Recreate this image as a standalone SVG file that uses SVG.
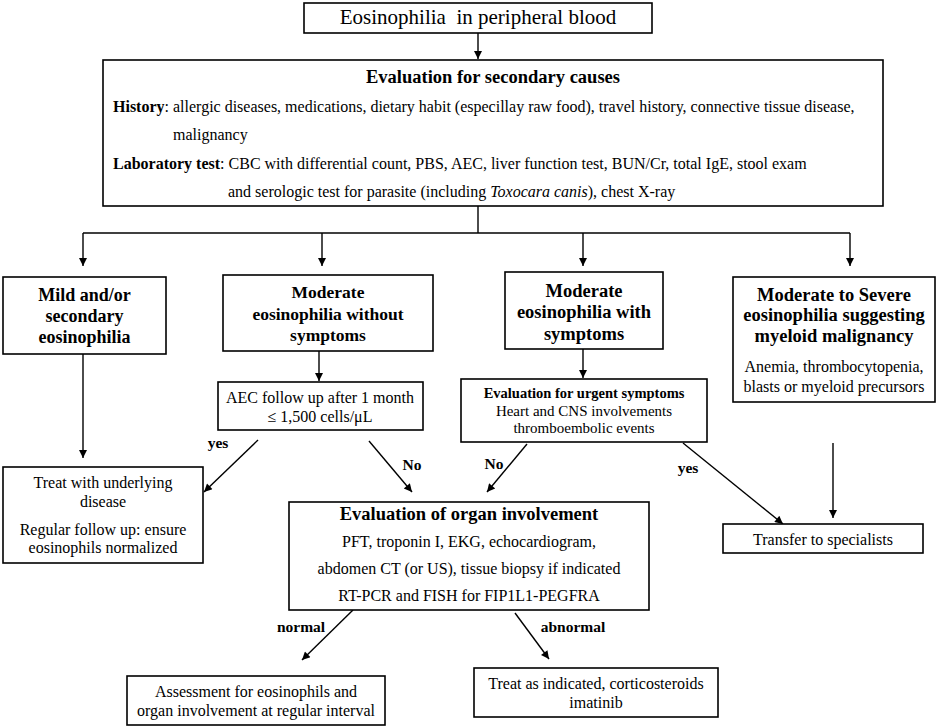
<svg xmlns="http://www.w3.org/2000/svg" width="941" height="727" viewBox="0 0 941 727">
<style>
.box{fill:#fff;stroke:#000;stroke-width:1.6;}
.h{font-weight:bold;font-size:18.5px;text-anchor:middle;}
.r{font-size:16px;text-anchor:middle;}
.l{font-weight:bold;font-size:15.5px;}
.t{font-size:16px;}
.c{fill:none;stroke:#000;stroke-width:1.4;}
.a{fill:none;stroke:#000;stroke-width:1.4;marker-end:url(#ah);}
</style>
<defs>
<marker id="ah" viewBox="0 0 10 10" refX="10" refY="5" markerWidth="10" markerHeight="8" markerUnits="userSpaceOnUse" orient="auto"><path d="M0,0 L10,5 L0,10 z" fill="#000"/></marker>
</defs>
<rect width="941" height="727" fill="#fff"/>
<g font-family="Liberation Serif, serif">
<g id="connectors">
<line class="a" x1="478" y1="33" x2="478" y2="59"/>
<polyline class="c" points="478,206 478,233"/>
<line class="c" x1="83" y1="233" x2="850" y2="233"/>
<line class="a" x1="83" y1="233" x2="83" y2="266"/>
<line class="a" x1="322" y1="233" x2="322" y2="266"/>
<line class="a" x1="583" y1="233" x2="583" y2="266"/>
<line class="a" x1="850" y1="233" x2="850" y2="266"/>
<line class="a" x1="83" y1="354" x2="83" y2="458"/>
<line class="a" x1="319" y1="351" x2="319" y2="381"/>
<line class="a" x1="583" y1="349" x2="583" y2="378"/>
<line class="a" x1="258" y1="440" x2="204" y2="492"/>
<line class="a" x1="369" y1="441" x2="412" y2="492"/>
<line class="a" x1="527" y1="444" x2="487" y2="492"/>
<line class="a" x1="683" y1="443" x2="783" y2="524"/>
<line class="a" x1="833" y1="443" x2="833" y2="518"/>
<line class="a" x1="353" y1="610" x2="302" y2="660"/>
<line class="a" x1="515" y1="613" x2="549" y2="659"/>
<text class="l" font-family="Liberation Serif, serif" x="218" y="448" text-anchor="middle">yes</text>
<text class="l" font-family="Liberation Serif, serif" x="412" y="470" text-anchor="middle">No</text>
<text class="l" font-family="Liberation Serif, serif" x="494" y="469" text-anchor="middle">No</text>
<text class="l" font-family="Liberation Serif, serif" x="688" y="473" text-anchor="middle">yes</text>
<text class="l" font-family="Liberation Serif, serif" x="301" y="632" text-anchor="middle">normal</text>
<text class="l" font-family="Liberation Serif, serif" x="573" y="632" text-anchor="middle">abnormal</text>
</g>
<g id="start">
<rect class="box" x="304" y="3" width="348" height="30"/>
<text font-family="Liberation Serif, serif" x="478" y="24" font-size="21" text-anchor="middle" xml:space="preserve">Eosinophilia  in peripheral blood</text>
</g>
<g id="secondary">
<rect class="box" x="103" y="60" width="780" height="146"/>
<text class="h" font-family="Liberation Serif, serif" x="493" y="83">Evaluation for secondary causes</text>
<text class="t" font-family="Liberation Serif, serif" x="113" y="112"><tspan font-weight="bold">History</tspan>: allergic diseases, medications, dietary habit (especillay raw food), travel history, connective tissue disease,</text>
<text class="t" font-family="Liberation Serif, serif" x="173" y="140">malignancy</text>
<text class="t" font-family="Liberation Serif, serif" x="113" y="169"><tspan font-weight="bold">Laboratory test</tspan>: CBC with differential count, PBS, AEC, liver function test, BUN/Cr, total IgE, stool exam</text>
<text class="t" font-family="Liberation Serif, serif" x="228" y="197">and serologic test for parasite (including <tspan font-style="italic">Toxocara canis</tspan>), chest X-ray</text>
</g>
<g id="mild">
<rect class="box" x="3" y="277" width="163" height="77"/>
<text class="h" font-family="Liberation Serif, serif" x="84.5" y="301" style="font-size:18px">Mild and/or</text>
<text class="h" font-family="Liberation Serif, serif" x="84.5" y="322" style="font-size:18px">secondary</text>
<text class="h" font-family="Liberation Serif, serif" x="84.5" y="343" style="font-size:18px">eosinophilia</text>
</g>
<g id="mod-no-sym">
<rect class="box" x="223" y="275" width="210" height="76"/>
<text class="h" font-family="Liberation Serif, serif" x="328" y="298" style="font-size:17.5px">Moderate</text>
<text class="h" font-family="Liberation Serif, serif" x="328" y="320" style="font-size:17.5px">eosinophilia without</text>
<text class="h" font-family="Liberation Serif, serif" x="328" y="341" style="font-size:17.5px">symptoms</text>
</g>
<g id="mod-sym">
<rect class="box" x="505" y="272" width="158" height="77"/>
<text class="h" font-family="Liberation Serif, serif" x="584" y="297">Moderate</text>
<text class="h" font-family="Liberation Serif, serif" x="584" y="318">eosinophilia with</text>
<text class="h" font-family="Liberation Serif, serif" x="584" y="340">symptoms</text>
</g>
<g id="severe">
<rect class="box" x="733" y="277" width="202" height="125"/>
<text class="h" font-family="Liberation Serif, serif" x="834" y="301">Moderate to Severe</text>
<text class="h" font-family="Liberation Serif, serif" x="834" y="321">eosinophilia suggesting</text>
<text class="h" font-family="Liberation Serif, serif" x="834" y="342">myeloid malignancy</text>
<text class="r" font-family="Liberation Serif, serif" x="834" y="372">Anemia, thrombocytopenia,</text>
<text class="r" font-family="Liberation Serif, serif" x="834" y="392">blasts or myeloid precursors</text>
</g>
<g id="aec">
<rect class="box" x="218" y="382" width="205" height="48"/>
<text class="r" font-family="Liberation Serif, serif" x="320" y="403">AEC follow up after 1 month</text>
<text class="r" font-family="Liberation Serif, serif" x="320" y="422">≤ 1,500 cells/μL</text>
</g>
<g id="urgent">
<rect class="box" x="461" y="379" width="246" height="63"/>
<text font-family="Liberation Serif, serif" x="584" y="398" font-size="14.5" font-weight="bold" text-anchor="middle">Evaluation for urgent symptoms</text>
<text font-family="Liberation Serif, serif" x="584" y="416" font-size="15" text-anchor="middle">Heart and CNS involvements</text>
<text font-family="Liberation Serif, serif" x="584" y="433" font-size="15" text-anchor="middle">thromboembolic events</text>
</g>
<g id="treat-underlying">
<rect class="box" x="3" y="467" width="200" height="96"/>
<text class="r" font-family="Liberation Serif, serif" x="103" y="488">Treat with underlying</text>
<text class="r" font-family="Liberation Serif, serif" x="103" y="507">disease</text>
<text class="r" font-family="Liberation Serif, serif" x="103" y="535">Regular follow up: ensure</text>
<text class="r" font-family="Liberation Serif, serif" x="103" y="553">eosinophils normalized</text>
</g>
<g id="organ">
<rect class="box" x="289" y="502" width="360" height="108"/>
<text class="h" font-family="Liberation Serif, serif" x="469" y="520">Evaluation of organ involvement</text>
<text class="r" font-family="Liberation Serif, serif" x="469" y="547">PFT, troponin I, EKG, echocardiogram,</text>
<text class="r" font-family="Liberation Serif, serif" x="469" y="574">abdomen CT (or US), tissue biopsy if indicated</text>
<text class="r" font-family="Liberation Serif, serif" x="469" y="601">RT-PCR and FISH for FIP1L1-PEGFRA</text>
</g>
<g id="transfer">
<rect class="box" x="723" y="524" width="200" height="29"/>
<text class="r" font-family="Liberation Serif, serif" x="823" y="545">Transfer to specialists</text>
</g>
<g id="assessment">
<rect class="box" x="127" y="676" width="258" height="49"/>
<text class="r" font-family="Liberation Serif, serif" x="256" y="697">Assessment for eosinophils and</text>
<text class="r" font-family="Liberation Serif, serif" x="256" y="716">organ involvement at regular interval</text>
</g>
<g id="treat-indicated">
<rect class="box" x="474" y="668" width="244" height="49"/>
<text class="r" font-family="Liberation Serif, serif" x="596" y="689">Treat as indicated, corticosteroids</text>
<text class="r" font-family="Liberation Serif, serif" x="596" y="708">imatinib</text>
</g>
</g>
</svg>
